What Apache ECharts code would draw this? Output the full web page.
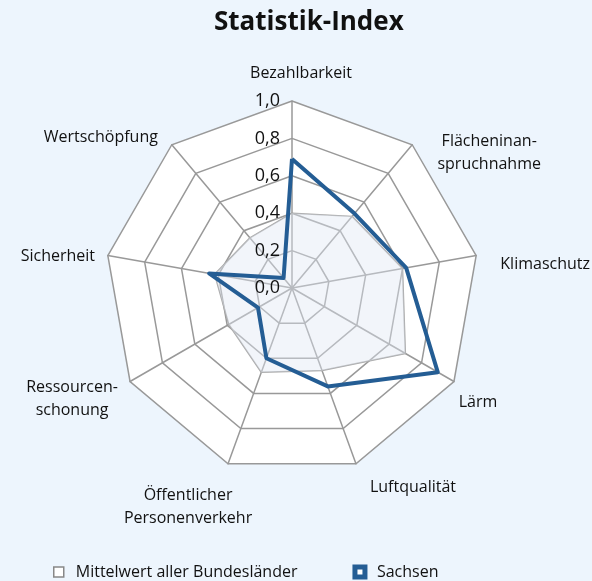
<!DOCTYPE html>
<html>
<head>
<meta charset="utf-8">
<script src="https://cdn.jsdelivr.net/npm/echarts@6/dist/echarts.min.js"></script>
<style>
  html, body { margin: 0; padding: 0; background: #edf5fd; }
  #chart { width: 592px; height: 581px; }
</style>
</head>
<body>
<div id="chart"></div>
<script>
// Indikatoren im Uhrzeigersinn, beginnend oben
const indicators = [
  'Bezahlbarkeit',
  'Flächeninan-\nspruchnahme',
  'Klimaschutz',
  'Lärm',
  'Luftqualität',
  'Öffentlicher\nPersonenverkehr',
  'Ressourcen-\nschonung',
  'Sicherheit',
  'Wertschöpfung'
]
const mittelwert = [0.40, 0.50, 0.60, 0.70, 0.47, 0.48, 0.39, 0.42, 0.35]
const sachsen = [0.69, 0.52, 0.62, 0.90, 0.56, 0.40, 0.21, 0.45, 0.07]
const tickLabels = ['0,0', '0,2', '0,4', '0,6', '0,8', '1,0']
const seriesNames = ['Mittelwert aller Bundesländer', 'Sachsen']

// Verschiebung der Achsennamen gegenüber der Polygonspitze (px), gleiche Reihenfolge
const nameOffsets = [[9, -28], [77, 8], [69, 9], [24, 21], [57, 24], [-40, 43], [-58, 17], [-50, 1], [-71, -7]]
const nameLineHeight = 23

// ECharts zeichnet gegen den Uhrzeigersinn -> Reihenfolge umdrehen (erster bleibt oben)
const ccw = arr => [arr[0]].concat(arr.slice(1).reverse())

// Text oben verankert, Padding verschiebt ihn (zrender wertet es bei 'top' aus)
const nameStyle = (name, [dx, dy]) => {
  const h = name.split('\n').length * nameLineHeight
  return { verticalAlign: 'top', padding: [dy - h / 2, 0, 0, 2 * dx] }
}

const font = 'Open Sans'
const chart = echarts.init(document.getElementById('chart'))

const baseRadar = {
  center: [292, 288],
  radius: 187,
  startAngle: 90,
  shape: 'polygon',
  splitNumber: 5
}

const option = {
  backgroundColor: '#edf5fd',
  title: {
    text: 'Statistik-Index',
    left: 209,
    top: 5,
    textStyle: { fontFamily: font, fontWeight: 'bold', fontSize: 26, color: '#111' }
  },
  legend: {
    data: [
      { name: seriesNames[0], itemStyle: { color: '#fff', borderColor: '#888', borderWidth: 1.5 } },
      { name: seriesNames[1], itemStyle: { color: '#fff', borderColor: '#245d94', borderWidth: 5 } }
    ],
    left: 48,
    top: 559,
    icon: 'rect',
    itemWidth: 10,
    itemHeight: 10,
    itemGap: 55,
    textStyle: { fontFamily: font, fontSize: 16, color: '#111', padding: [0, 0, 0, 7] }
  },
  radar: [
    Object.assign({}, baseRadar, {
      nameGap: 0,
      indicator: ccw(indicators.map((n, i) => ({
        name: n,
        min: 0,
        max: 1,
        nameTextStyle: nameStyle(n, nameOffsets[i])
      }))),
      axisName: {
        color: '#111',
        fontFamily: font,
        fontSize: 16,
        lineHeight: nameLineHeight,
        align: 'center'
      },
      axisLine: { lineStyle: { color: '#999', width: 1.5 } },
      splitLine: { lineStyle: { color: '#999', width: 1.5 } },
      splitArea: { areaStyle: { color: ['#fff'] } },
      axisLabel: { show: false }
    }),
    // zweites Radar nur für die Skalenbeschriftung über den Flächen
    Object.assign({}, baseRadar, {
      z: 5,
      indicator: ccw(indicators).map((n, i) => {
        const ind = { name: n, min: 0, max: 1 }
        if (i === 0) ind.axisLabel = { show: true }
        return ind
      }),
      axisName: { show: false },
      axisLine: { show: false },
      splitLine: { show: false },
      splitArea: { show: false },
      axisLabel: {
        show: false,
        color: '#111',
        fontFamily: font,
        fontSize: 18,
        margin: 12,
        formatter: v => tickLabels[Math.round(v * 5)]
      }
    })
  ],
  series: [{
    type: 'radar',
    radarIndex: 0,
    symbol: 'none',
    silent: true,
    data: [
      {
        name: seriesNames[0],
        value: ccw(mittelwert),
        lineStyle: { color: '#aaa', width: 1.5 },
        areaStyle: { color: 'rgba(225,232,244,0.6)' },
        itemStyle: { color: '#aaa' }
      },
      {
        name: seriesNames[1],
        value: ccw(sachsen),
        lineStyle: { color: '#245d94', width: 4 },
        itemStyle: { color: '#245d94' }
      }
    ]
  }]
}

chart.setOption(option)
</script>
</body>
</html>
